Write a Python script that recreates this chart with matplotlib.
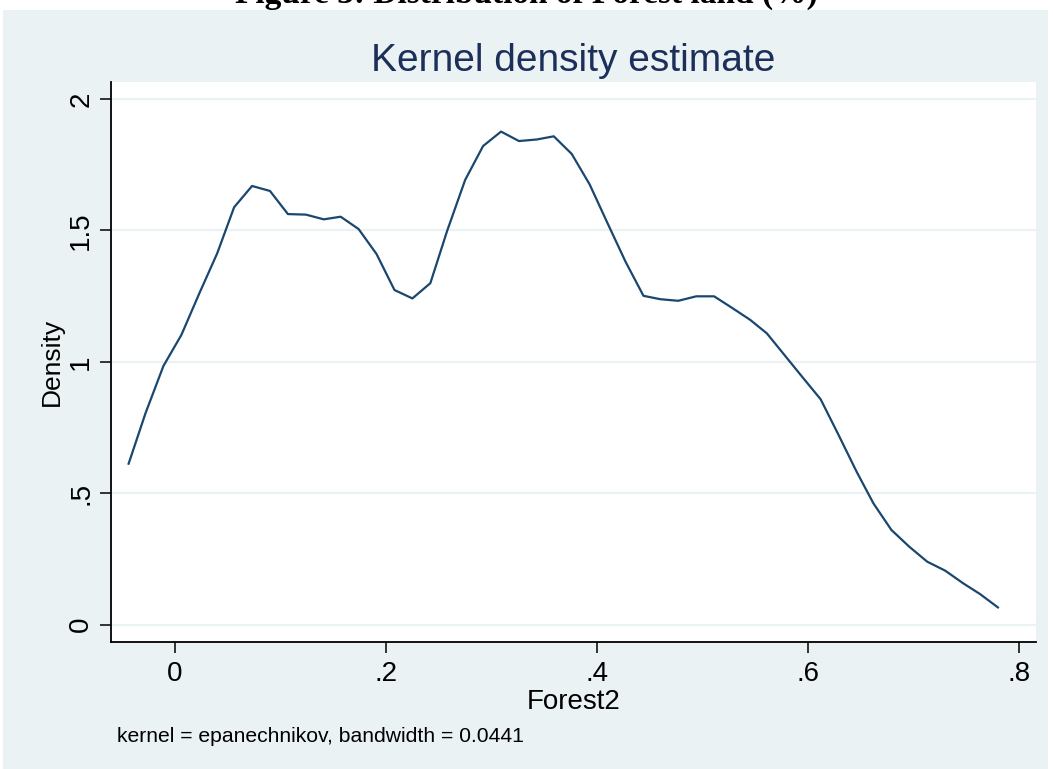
import matplotlib
matplotlib.use("Agg")
import matplotlib.pyplot as plt
from matplotlib.patches import Rectangle

# Kernel density of Forest2 (50 evaluation points)
forest2 = [-0.044, -0.028, -0.011, 0.006, 0.023, 0.040, 0.056, 0.073, 0.090, 0.107,
           0.124, 0.141, 0.157, 0.174, 0.191, 0.208, 0.225, 0.242, 0.258, 0.275,
           0.292, 0.309, 0.326, 0.343, 0.359, 0.376, 0.393, 0.410, 0.427, 0.444,
           0.460, 0.477, 0.494, 0.511, 0.528, 0.545, 0.561, 0.578, 0.595, 0.612,
           0.629, 0.646, 0.662, 0.679, 0.696, 0.713, 0.730, 0.747, 0.763, 0.780]
density = [0.612, 0.804, 0.984, 1.102, 1.260, 1.413, 1.588, 1.669, 1.650, 1.562,
           1.560, 1.542, 1.552, 1.505, 1.410, 1.273, 1.241, 1.299, 1.499, 1.692,
           1.821, 1.876, 1.840, 1.846, 1.858, 1.791, 1.675, 1.527, 1.381, 1.251,
           1.238, 1.232, 1.249, 1.249, 1.205, 1.160, 1.108, 1.024, 0.940, 0.857,
           0.721, 0.582, 0.461, 0.360, 0.296, 0.239, 0.205, 0.157, 0.116, 0.065]

xticks = [0, 0.2, 0.4, 0.6, 0.8]
xtick_labels = ["0", ".2", ".4", ".6", ".8"]
yticks = [0, 0.5, 1, 1.5, 2]
ytick_labels = ["0", ".5", "1", "1.5", "2"]

sans = ["Liberation Sans", "DejaVu Sans"]
plt.rcParams['font.family'] = sans

bg = "#EAF2F3"
navy = "#1A476F"

fig = plt.figure(figsize=(10.53, 7.69), dpi=100, facecolor="white")
# stata graph region (starts a little below the top edge)
fig.patches.append(Rectangle((3 / 1053, 0), 1045 / 1053, 759 / 769,
                             transform=fig.transFigure, facecolor=bg,
                             edgecolor="none", zorder=-5))

# cropped caption above the graph
fig.text(0.5, 1 - 3 / 769, "Figure 3: Distribution of Forest land (%)",
         ha="center", va="baseline", fontsize=24, fontweight="bold",
         family=["Liberation Serif", "DejaVu Serif"])

ax = fig.add_axes([111 / 1053, 1 - 642 / 769, 925 / 1053, 560 / 769])
ax.set_facecolor("white")
ax.plot(forest2, density, color=navy, lw=1.6, zorder=3)

ax.set_xlim(-0.0607, 0.8161)
ax.set_ylim(-0.0666, 2.0647)

ax.set_xticks(xticks)
ax.set_xticklabels(xtick_labels)
ax.set_yticks(yticks)
ax.set_yticklabels(ytick_labels, rotation=90, va="center")
ax.tick_params(axis="both", direction="out", length=8, width=1.1,
               labelsize=20, color="black", labelcolor="black")
ax.tick_params(axis="x", pad=6)
ax.tick_params(axis="y", pad=4)

ax.grid(axis="y", color=bg, lw=1.6, zorder=1)
ax.grid(axis="x", visible=False)
ax.set_axisbelow(True)

for s in ["top", "right"]:
    ax.spines[s].set_visible(False)
for s in ["left", "bottom"]:
    ax.spines[s].set_linewidth(1.3)
    ax.spines[s].set_color("black")

ax.set_xlabel("Forest2", fontsize=20, labelpad=1)
ax.set_ylabel("Density", fontsize=19, labelpad=3)

ax.set_title("Kernel density estimate", fontsize=28, color="#1C2E5A", pad=8)

fig.text(117 / 1053, 1 - 742 / 769, "kernel = epanechnikov, bandwidth = 0.0441",
         ha="left", va="baseline", fontsize=15.2)

fig.savefig("out.png", dpi=100, facecolor=fig.get_facecolor())
